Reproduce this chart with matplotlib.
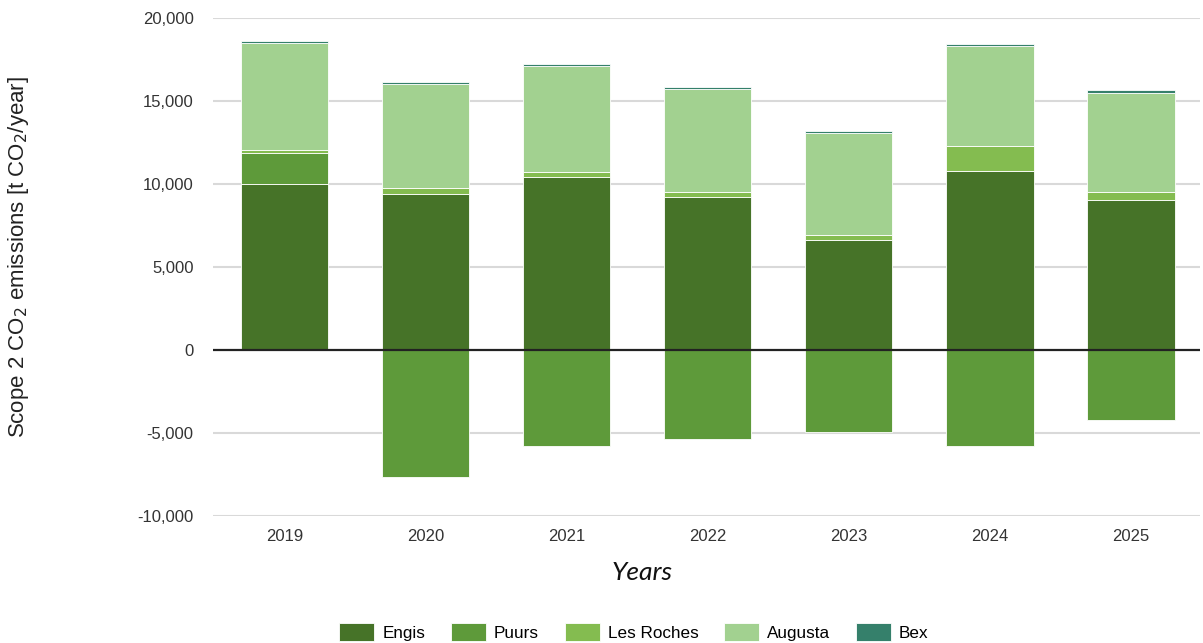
import matplotlib
matplotlib.use("Agg")
import matplotlib.pyplot as plt
import numpy as np

years = ["2019", "2020", "2021", "2022", "2023", "2024", "2025"]
series_names = ["Engis", "Puurs", "Les Roches", "Augusta", "Bex"]
engis = [10000, 9420, 10410, 9190, 6600, 10810, 9020]
puurs = [1850, -7630, -5780, -5360, -4920, -5780, -4200]
les_roches = [220, 340, 340, 300, 300, 1450, 470]
augusta = [6400, 6250, 6380, 6230, 6170, 6050, 6000]
bex = [130, 140, 120, 130, 120, 150, 190]
colors = ["#467328", "#5E9A3A", "#84BC50", "#A2D190", "#35806B"]
yticks = [-10000, -5000, 0, 5000, 10000, 15000, 20000]

plt.rcParams['font.family'] = ['Liberation Sans', 'DejaVu Sans']

fig = plt.figure(figsize=(12.03, 6.43), dpi=100)
ax = fig.add_axes([213 / 1203, 0.1975, 987 / 1203, 0.7745])

x = np.arange(len(years))
pos_bottom = np.zeros(len(years))
neg_bottom = np.zeros(len(years))
handles = []
for name, vals, c in zip(series_names, [engis, puurs, les_roches, augusta, bex], colors):
    v = np.array(vals, dtype=float)
    bottoms = np.where(v >= 0, pos_bottom, neg_bottom)
    b = ax.bar(x, v, bottom=bottoms, width=0.62, color=c, edgecolor="white",
               linewidth=0.6, label=name, zorder=3)
    handles.append(b)
    pos_bottom = pos_bottom + np.where(v >= 0, v, 0)
    neg_bottom = neg_bottom + np.where(v < 0, v, 0)

ax.set_xlim(-0.507, 6.49)
ax.set_ylim(-10000, 20000)
ax.set_yticks(yticks)
ax.set_yticklabels([f"{t:,}" for t in yticks], fontsize=12, color="#333333")
ax.set_xticks(x)
ax.set_xticklabels(years, fontsize=12, color="#333333")
ax.tick_params(axis="y", length=0, pad=14)
ax.tick_params(axis="x", length=0, pad=9)
for s in ax.spines.values():
    s.set_visible(False)
for t in yticks:
    if t != 0:
        ax.axhline(t, color="#d9d9d9", linewidth=1.5, zorder=1)
ax.axhline(0, color="#222222", linewidth=1.6, zorder=4)

ax.set_ylabel("Scope 2 CO$_2$ emissions [t CO$_2$/year]", fontsize=16,
              color="#222222")
ax.yaxis.set_label_coords((31 - 213) / 987, (643 - 257 - 127) / 498)
ax.set_xlabel("Years", fontsize=19, style="italic", family="Lato",
              color="#111111")
ax.xaxis.set_label_coords((642 - 213) / 987, -(561 - 516) / 498)

fig.legend(handles=handles, labels=series_names, loc="center",
           bbox_to_anchor=(634 / 1203, 1 - 632 / 643), ncol=5, frameon=False,
           fontsize=12.3, handlelength=2.05, handleheight=1.2,
           columnspacing=1.5, handletextpad=0.47)

fig.savefig("out.png", dpi=100)
